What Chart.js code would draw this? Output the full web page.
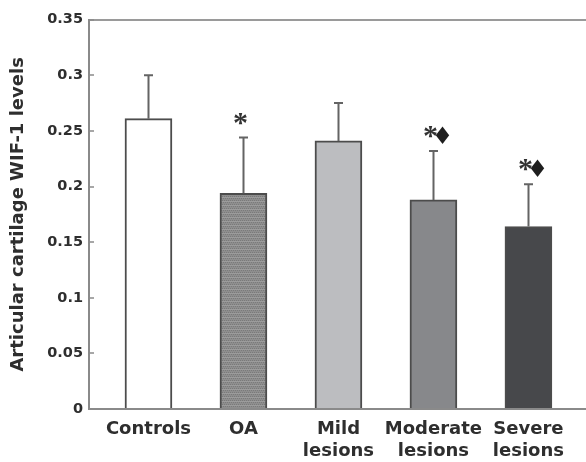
<!DOCTYPE html>
<html>
<head>
<meta charset="utf-8">
<script src="https://cdn.jsdelivr.net/npm/chart.js@4/dist/chart.umd.min.js"></script>
<style>
  html, body { margin: 0; padding: 0; background: #ffffff; }
  #wrap { width: 586px; height: 462px; }
</style>
</head>
<body>
<div id="wrap"><canvas id="c" width="586" height="462"></canvas></div>
<script>
// ---- data ----
const categories = [['Controls'], ['OA'], ['Mild', 'lesions'], ['Moderate', 'lesions'], ['Severe', 'lesions']];
const levels = [0.261, 0.194, 0.241, 0.188, 0.164];
const errors = [0.039, 0.050, 0.034, 0.044, 0.038];
const marks = ['', '*', '', '*\u2666', '*\u2666'];
const yTickLabels = ['0', '0.05', '0.1', '0.15', '0.2', '0.25', '0.3', '0.35'];

// ---- styles ----
function makePattern() {
  const c = document.createElement('canvas');
  c.width = 4; c.height = 4;
  const g = c.getContext('2d');
  g.fillStyle = '#8e8e8e'; g.fillRect(0, 0, 4, 4);
  g.fillStyle = '#7a7a7a';
  g.fillRect(0, 0, 1, 1); g.fillRect(2, 0, 1, 1);
  g.fillRect(1, 2, 1, 1); g.fillRect(3, 2, 1, 1);
  g.fillStyle = '#9c9c9c';
  g.fillRect(0, 1, 4, 1);
  return document.getElementById('c').getContext('2d').createPattern(c, 'repeat');
}
const fills = ['#ffffff', makePattern(), '#bcbdc0', '#87888b', '#47484b'];
const textColor = '#2e2e2e';
const axisColor = '#8a8a8a';

const errorPlugin = {
  id: 'errorBars',
  afterDatasetsDraw(chart) {
    const ctx = chart.ctx;
    const xs = chart.scales.x, ys = chart.scales.y;
    ctx.save();
    levels.forEach((v, i) => {
      const x = Math.round(xs.getPixelForValue(i)) + 0.5;
      const y0 = ys.getPixelForValue(v);
      const y1 = ys.getPixelForValue(v + errors[i]);
      ctx.strokeStyle = '#646464';
      ctx.lineWidth = 2;
      ctx.beginPath();
      ctx.moveTo(x, y0);
      ctx.lineTo(x, y1);
      ctx.moveTo(x - 4.5, y1);
      ctx.lineTo(x + 4.5, y1);
      ctx.stroke();
      const m = marks[i];
      if (m) {
        ctx.textBaseline = 'alphabetic';
        ctx.textAlign = 'center';
        ctx.fillStyle = '#333333';
        ctx.font = 'bold 30px "Liberation Serif"';
        ctx.fillText('*', x - 3, y1 - 6);
        if (m.length > 1) {
          ctx.fillStyle = '#1e1e1e';
          ctx.font = '24px "DejaVu Sans"';
          ctx.fillText(m.slice(1), x + 9, y1 - 7);
        }
      }
    });
    ctx.restore();
  }
};

new Chart(document.getElementById('c'), {
  type: 'bar',
  data: {
    datasets: [{
      data: levels.map((v, i) => ({ x: i, y: v })),
      backgroundColor: fills,
      borderColor: '#4c4c4c',
      borderWidth: 2,
      barThickness: 47
    }]
  },
  options: {
    responsive: false,
    devicePixelRatio: 1,
    animation: false,
    layout: { padding: { top: 19, right: 0, bottom: 0, left: 0 } },
    plugins: { legend: { display: false }, tooltip: { enabled: false } },
    scales: {
      x: {
        type: 'linear',
        offset: false,
        min: -0.626,
        max: 4.606,
        afterBuildTicks(scale) { scale.ticks = categories.map((_, i) => ({ value: i })); },
        afterFit(scale) { scale.height = 53; },
        grid: { display: false, drawTicks: false, offset: false },
        border: { display: true, color: axisColor, width: 2 },
        ticks: {
          padding: 10,
          color: textColor,
          font: { family: '"DejaVu Sans"', weight: 'bold', size: 18, lineHeight: 1.2 },
          maxRotation: 0,
          autoSkip: false,
          callback: (v) => categories[v]
        }
      },
      y: {
        min: 0,
        max: 0.35,
        afterBuildTicks(scale) { scale.ticks = yTickLabels.map(t => ({ value: parseFloat(t) })); },
        afterFit(scale) { scale.width = 89; },
        grid: {
          drawOnChartArea: true,
          drawTicks: true,
          tickLength: -5,
          lineWidth: 2,
          color: (ctx) => (ctx.tick && Math.abs(ctx.tick.value - 0.35) < 1e-9) ? '#9a9a9a' : 'rgba(0,0,0,0)',
          tickColor: axisColor,
          tickWidth: 1.5
        },
        border: { display: true, color: axisColor, width: 2 },
        ticks: {
          padding: 11,
          color: textColor,
          font: { family: '"DejaVu Sans"', weight: 'bold', size: 14.5 },
          callback: (v, i) => yTickLabels[i]
        },
        title: {
          display: true,
          text: 'Articular cartilage WIF-1 levels',
          color: textColor,
          font: { family: '"DejaVu Sans"', weight: 'bold', size: 18, lineHeight: 1.2 },
          padding: { top: 8, bottom: 0 }
        }
      }
    }
  },
  plugins: [errorPlugin]
});
</script>
</body>
</html>
